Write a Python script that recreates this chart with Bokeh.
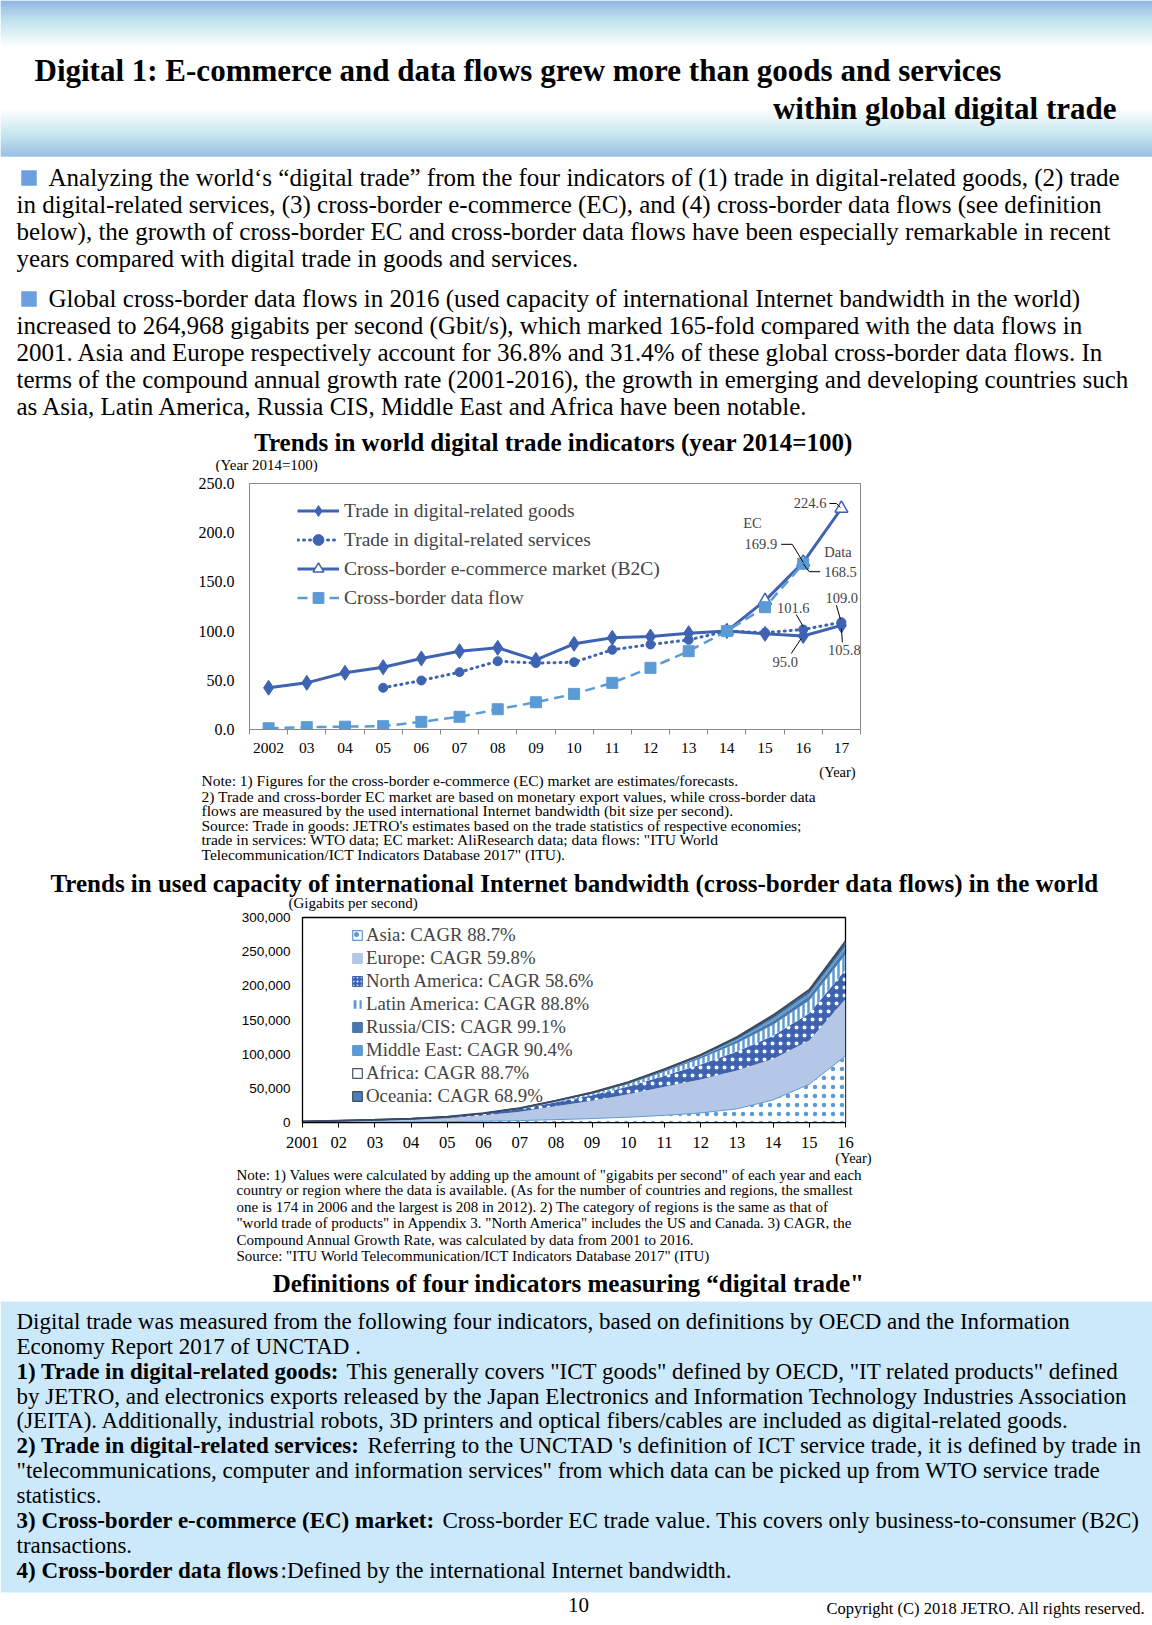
import numpy as np
from bokeh.plotting import figure
from bokeh.layouts import column
from bokeh.models import (Range1d, FixedTicker, Legend, LegendItem, Label,
                          ColumnDataSource, NumeralTickFormatter)
from bokeh.core.properties import value
from bokeh.transform import stack
from bokeh.embed import file_html
from bokeh.resources import INLINE

nan = float("nan")

# ------------------------------------------------------------------ data: chart 1
year_labels_1 = ["2002", "03", "04", "05", "06", "07", "08", "09", "10",
                 "11", "12", "13", "14", "15", "16", "17"]
goods = [42.4, 47.4, 57.6, 63.3, 72.2, 79.6, 83.0, 70.8, 87.1, 93.2, 94.5,
         97.9, 100.0, 97.2, 95.0, 105.8]
services = [nan, nan, nan, 42.4, 49.8, 58.3, 69.4, 67.5, 68.4, 81.0, 86.4,
            91.1, 100.0, 98.4, 101.6, 109.0]
ec_market = [nan, nan, nan, nan, nan, nan, nan, nan, nan, nan, nan, nan,
             100.0, 131.0, 169.9, 224.6]
data_flow = [1.2, 2.4, 2.9, 3.4, 7.8, 12.9, 20.6, 27.7, 36.2, 47.4, 62.7,
             79.6, 100.0, 124.3, 168.5, nan]
series_names_1 = ["Trade in digital-related goods", "Trade in digital-related services",
                  "Cross-border e-commerce market (B2C)", "Cross-border data flow"]
y_ticks_1 = [0, 50, 100, 150, 200, 250]

# ------------------------------------------------------------------ data: chart 2
years_2 = [2001, 2002, 2003, 2004, 2005, 2006, 2007, 2008, 2009, 2010, 2011,
           2012, 2013, 2014, 2015, 2016]
year_labels_2 = ["2001", "02", "03", "04", "05", "06", "07", "08", "09", "10",
                 "11", "12", "13", "14", "15", "16"]
asia = [250, 400, 600, 850, 1250, 1900, 2800, 4200, 5800, 7800, 10500, 14000,
        20000, 33000, 56000, 97500]
europe = [900, 1550, 2250, 3300, 5000, 8300, 13000, 19500, 26000, 33500, 42000,
          49000, 56000, 60000, 64000, 83200]
north_america = [380, 620, 850, 1150, 1600, 2500, 3800, 5800, 8200, 11500, 16000,
                 22000, 28000, 34000, 40000, 43000]
latin_america = [30, 55, 90, 140, 230, 400, 700, 1300, 2200, 3600, 5800, 8500,
                 12000, 16000, 18500, 22000]
russia_cis = [10, 20, 35, 55, 90, 170, 330, 600, 900, 1300, 1900, 2700, 4000,
              5500, 6500, 8000]
middle_east = [15, 25, 40, 60, 80, 140, 240, 400, 600, 900, 1300, 2000, 3500,
               5500, 6000, 7000]
africa = [6, 10, 15, 20, 20, 40, 60, 100, 150, 200, 250, 400, 800, 1700, 2000, 2800]
oceania = [15, 20, 20, 25, 30, 50, 70, 100, 150, 200, 250, 400, 700, 1300, 1200, 1468]
region_keys = ["asia", "europe", "north_america", "latin_america", "russia_cis",
               "middle_east", "africa", "oceania"]
region_labels = ["Asia: CAGR 88.7%", "Europe: CAGR 59.8%", "North America: CAGR 58.6%",
                 "Latin America: CAGR 88.8%", "Russia/CIS: CAGR 99.1%",
                 "Middle East: CAGR 90.4%", "Africa: CAGR 88.7%", "Oceania: CAGR 68.9%"]
y_ticks_2 = [0, 50000, 100000, 150000, 200000, 250000, 300000]

# ------------------------------------------------------------------ texts
title_lines = ["Digital 1: E-commerce and data flows grew more than goods and services",
               "within global digital trade"]
para1 = ["Analyzing  the world\u2018s \u201cdigital trade\u201d from the four indicators of (1) trade in digital-related goods, (2) trade",
         "in digital-related services, (3) cross-border e-commerce (EC), and (4) cross-border data flows (see definition",
         "below), the growth of cross-border EC and cross-border data flows have been especially remarkable in recent",
         "years compared with digital trade in goods and services."]
para2 = ["Global cross-border data flows in 2016 (used capacity of international Internet bandwidth in the world)",
         "increased to 264,968 gigabits per second (Gbit/s), which marked 165-fold compared with the data flows in",
         "2001. Asia and Europe respectively account for 36.8% and 31.4% of these global cross-border data flows. In",
         "terms of the compound annual growth rate (2001-2016), the growth in emerging and developing countries such",
         "as Asia, Latin America, Russia CIS, Middle East and Africa have been notable."]
chart1_title = "Trends in world digital trade indicators (year 2014=100)"
chart1_unit = "(Year  2014=100)"
notes1 = ["Note:  1) Figures for the cross-border e-commerce  (EC)  market  are estimates/forecasts.",
          "2) Trade and cross-border EC market  are based on monetary export values, while cross-border data",
          "flows are measured by the used international Internet bandwidth (bit size per second).",
          "Source: Trade in goods: JETRO's  estimates based on the trade statistics of respective economies;",
          "trade in services: WTO data; EC market:  AliResearch  data; data flows:  \"ITU World",
          "Telecommunication/ICT  Indicators Database 2017\"  (ITU)."]
chart2_title = "Trends in used capacity of international Internet bandwidth (cross-border data flows) in the world"
chart2_unit = "(Gigabits  per second)"
notes2 = ["Note: 1) Values were calculated  by adding up the amount of \"gigabits  per second\"  of each year and each",
          "country or region  where the data is available.  (As for the number of countries and regions,  the smallest",
          "one is 174 in 2006 and the largest  is 208 in 2012). 2) The category  of regions is the same as that of",
          "\"world trade of products\" in Appendix 3. \"North America\" includes the US and Canada. 3) CAGR, the",
          "Compound Annual Growth Rate, was calculated  by data from 2001 to 2016.",
          "Source:  \"ITU World Telecommunication/ICT  Indicators Database 2017\" (ITU)"]
defs_title = "Definitions of four indicators measuring \u201cdigital trade\""
defs = [("", "Digital trade was measured from the following  four indicators, based on definitions by OECD and the Information"),
        ("", "Economy Report 2017 of UNCTAD ."),
        ("1) Trade in digital-related goods:", "This generally covers \"ICT goods\" defined by OECD, \"IT related products\" defined"),
        ("", "by JETRO, and electronics  exports released by the Japan Electronics and Information Technology Industries Association"),
        ("", "(JEITA). Additionally, industrial robots, 3D printers and optical fibers/cables are included as digital-related goods."),
        ("2) Trade in digital-related services:", "Referring to the UNCTAD 's definition of ICT service trade, it is defined by trade in"),
        ("", "\"telecommunications,  computer and information services\"  from which data can be picked up from WTO service trade"),
        ("", "statistics."),
        ("3) Cross-border e-commerce (EC) market:", "Cross-border EC trade value. This covers only business-to-consumer (B2C)"),
        ("", "transactions."),
        ("4) Cross-border data flows", ":Defined by the international Internet bandwidth.")]
defs_regular_x = [16, 16, 346, 16, 16, 367, 16, 16, 442, 16, 280]
page_no = "10"
copyright_text = "Copyright (C) 2018 JETRO. All rights reserved."

# ------------------------------------------------------------------ style
SERIF = "Liberation Serif"
SANS = "Liberation Sans"
W = 1152
DARK = "#3f63b3"
LIGHT = "#5b9bd5"


def text_fig(y0, y1):
    f = figure(width=W, height=int(y1 - y0), x_range=Range1d(0, W),
               y_range=Range1d(y1, y0), output_backend="svg", toolbar_location=None,
               x_axis_type=None, y_axis_type=None, min_border=0, title=None)
    f.frame_align = False
    f.grid.visible = False
    f.outline_line_color = None
    f.background_fill_color = "white"
    return f


def put(f, xs, ys, texts, size, bold=False, align="left", color="black", font=SERIF):
    f.text(x=xs, y=ys, text=texts, text_font=value(font),
           text_font_size=value(f"{size}px"),
           text_font_style="bold" if bold else "normal",
           text_align=align, text_baseline="middle", text_color=color)


def hex2rgb(h):
    return np.array([int(h[i:i + 2], 16) for i in (1, 3, 5)], dtype=float)


# ------------------------------------------------------------------ A: header + paragraphs
fa = text_fig(0, 472)
stops_y = [0, 18, 46, 108, 134, 156]
stops_c = ["#6c9ddb", "#a7d7e5", "#ffffff", "#ffffff", "#b2dfea", "#78a9dd"]
ys = np.arange(0, 156)
rgbs = np.array([hex2rgb(c) for c in stops_c])
cols = []
for y in ys:
    r = np.interp(y, stops_y, rgbs[:, 0]); g = np.interp(y, stops_y, rgbs[:, 1]); b = np.interp(y, stops_y, rgbs[:, 2])
    cols.append("#%02x%02x%02x" % (int(r), int(g), int(b)))
fa.quad(left=0, right=W, top=list(ys), bottom=list(ys + 1.05), fill_color=cols, line_color=None)
put(fa, [34], [70], [title_lines[0]], 31, bold=True)
put(fa, [1116], [108], [title_lines[1]], 31, bold=True, align="right")

fa.rect(x=[28.5, 28.5], y=[177.5, 298.5], width=15.5, height=15.5, fill_color="#6c9fde", line_color=None)
put(fa, [48, 16, 16, 16], [177.2, 204.1, 231.0, 258.0], para1, 25)
put(fa, [48, 16, 16, 16, 16], [298.4, 325.3, 352.2, 379.2, 406.1], para2, 25)
put(fa, [553], [442], [chart1_title], 25, bold=True, align="center")
put(fa, [215], [464], [chart1_unit], 15)

# ------------------------------------------------------------------ B: chart 1
B0, B1 = 472, 762
FL, FR, FT, FB = 249, 860, 483, 729
p1 = figure(width=W, height=B1 - B0, x_range=Range1d(-0.5, 15.5), y_range=Range1d(0, 250),
            output_backend="svg", toolbar_location=None, title=None,
            min_border_left=FL, min_border_right=W - FR,
            min_border_top=FT - B0, min_border_bottom=B1 - FB)
p1.frame_align = False
p1.grid.visible = False
p1.outline_line_color = "#898989"
p1.outline_line_width = 1
idx = list(range(len(year_labels_1)))
p1.xaxis.ticker = FixedTicker(ticks=idx, minor_ticks=[i - 0.5 for i in range(len(idx) + 1)])
p1.xaxis.major_label_overrides = {i: lab for i, lab in enumerate(year_labels_1)}
p1.xaxis.major_tick_line_color = None
p1.xaxis.major_tick_out = 0
p1.xaxis.major_tick_in = 0
p1.xaxis.minor_tick_line_color = "#898989"
p1.xaxis.minor_tick_in = 0
p1.xaxis.minor_tick_out = 5
p1.xaxis.axis_line_color = "#898989"
p1.xaxis.major_label_standoff = 8
p1.yaxis.ticker = FixedTicker(ticks=y_ticks_1)
p1.yaxis.formatter = NumeralTickFormatter(format="0.0")
p1.yaxis.major_tick_line_color = None
p1.yaxis.minor_tick_line_color = None
p1.yaxis.major_tick_out = 0
p1.yaxis.axis_line_color = "#898989"
p1.yaxis.major_label_standoff = 15
p1.xaxis.major_label_text_font_size = "15.5px"
p1.yaxis.major_label_text_font_size = "16px"
for ax in (p1.xaxis[0], p1.yaxis[0]):
    ax.major_label_text_font = SERIF
    ax.major_label_text_color = "black"

src1 = ColumnDataSource(dict(x=idx, goods=goods, services=services, ec=ec_market, data=data_flow))
r_gl = p1.line("x", "goods", source=src1, line_color=DARK, line_width=3)
r_gp = p1.scatter("x", "goods", source=src1, marker="diamond", size=15, fill_color=DARK, line_color=DARK)
r_sl = p1.line("x", "services", source=src1, line_color=DARK, line_width=3, line_dash="1 5", line_cap="round")
r_sp = p1.scatter("x", "services", source=src1, marker="circle", size=9, fill_color=DARK, line_color=DARK)
r_el = p1.line("x", "ec", source=src1, line_color=DARK, line_width=3)
r_ep = p1.scatter("x", "ec", source=src1, marker="triangle", size=13, fill_color="white", line_color=DARK, line_width=1.5)
r_dl = p1.line("x", "data", source=src1, line_color=LIGHT, line_width=2.5, line_dash="10 6")
r_dp = p1.scatter("x", "data", source=src1, marker="square", size=11, fill_color=LIGHT, line_color=LIGHT)

leg1 = Legend(items=[LegendItem(label=series_names_1[0], renderers=[r_gl, r_gp]),
                     LegendItem(label=series_names_1[1], renderers=[r_sl, r_sp]),
                     LegendItem(label=series_names_1[2], renderers=[r_el, r_ep]),
                     LegendItem(label=series_names_1[3], renderers=[r_dl, r_dp])],
              location=(48, 118), glyph_width=42, glyph_height=27, label_height=27,
              spacing=2, padding=0, margin=0, label_standoff=5,
              label_text_font=SERIF, label_text_font_size="19.5px",
              border_line_color=None, background_fill_alpha=0)
p1.add_layout(leg1)

XPX = (FR - FL) / 16.0
YPX = (FB - FT) / 250.0


def at(i, v, dx, dy):
    return i + dx / XPX, v - dy / YPX


callouts = [(ec_market, 15, "right", (-15, -5), [(-12, -5), (-5, -5), (-1, -1)]),
            (ec_market, 14, "right", (-26, -18), [(-22, -18), (-11, -18), (0, 0)]),
            (data_flow, 14, "left", (21, 8), [(0, 0), (6, 8), (17, 8)]),
            (services, 14, "center", (-10, -22), [(-7, -15), (0, -3)]),
            (services, 15, "left", (-16, -24), [(-5, -17), (-1, -3)]),
            (goods, 14, "center", (-18, 25.5), [(-12, 17.5), (-2, 2.5)]),
            (goods, 15, "center", (3, 25), [(1, 17), (0, 3)])]
lxs, lys = [], []
for vals, i, al, (tx, ty), pts in callouts:
    x, y = at(i, vals[i], tx, ty)
    p1.add_layout(Label(x=x, y=y, text=f"{vals[i]:.1f}", text_align=al, text_baseline="middle",
                        text_font=SERIF, text_font_size="14.5px"))
    xy = [at(i, vals[i], a, b) for a, b in pts]
    lxs.append([q[0] for q in xy]); lys.append([q[1] for q in xy])
p1.multi_line(xs=lxs, ys=lys, line_color="black", line_width=1)
x, y = at(14, ec_market[14], -60, -39)
p1.add_layout(Label(x=x, y=y, text="EC", text_baseline="middle", text_font=SERIF, text_font_size="14.5px"))
x, y = at(14, data_flow[14], 21, -12)
p1.add_layout(Label(x=x, y=y, text="Data", text_baseline="middle", text_font=SERIF, text_font_size="14.5px"))

# ------------------------------------------------------------------ C: notes 1 + title 2 + unit
C0, C1 = 762, 911
fc = text_fig(C0, C1)
put(fc, [837], [771], ["(Year)"], 14.5, align="center")
put(fc, [201] * 6, [780, 795.5, 810, 824.6, 839, 853.7], notes1, 15.5)
put(fc, [574], [883], [chart2_title], 25, bold=True, align="center")
put(fc, [288], [902.5], [chart2_unit], 15)

# ------------------------------------------------------------------ D: chart 2
D0, D1 = C1, 1150
GL, GR, GT, GB = 302, 845, 917, 1123
p2 = figure(width=W, height=D1 - D0, x_range=Range1d(2001, 2016), y_range=Range1d(0, 300000),
            output_backend="svg", toolbar_location=None, title=None,
            min_border_left=GL, min_border_right=W - GR,
            min_border_top=GT - D0, min_border_bottom=D1 - GB)
p2.frame_align = False
p2.grid.visible = False
p2.outline_line_color = "black"
p2.outline_line_width = 1.3
p2.xaxis.ticker = FixedTicker(ticks=years_2)
p2.xaxis.major_label_overrides = {y: lab for y, lab in zip(years_2, year_labels_2)}
p2.xaxis.major_tick_line_color = "black"
p2.xaxis.major_tick_in = 0
p2.xaxis.major_tick_out = 5
p2.xaxis.minor_tick_line_color = None
p2.xaxis.axis_line_color = "black"
p2.xaxis.major_label_standoff = 9
p2.xaxis.major_label_text_font = SERIF
p2.xaxis.major_label_text_font_size = "16.5px"
p2.yaxis.ticker = FixedTicker(ticks=y_ticks_2)
p2.yaxis.formatter = NumeralTickFormatter(format="0,0")
p2.yaxis.major_tick_line_color = None
p2.yaxis.minor_tick_line_color = None
p2.yaxis.major_tick_out = 0
p2.yaxis.axis_line_color = "black"
p2.yaxis.major_label_standoff = 12
p2.yaxis.major_label_text_font = SANS
p2.yaxis.major_label_text_font_size = "13.5px"
for ax in (p2.xaxis[0], p2.yaxis[0]):
    ax.major_label_text_color = "black"

src2 = ColumnDataSource(dict(year=years_2, asia=asia, europe=europe, north_america=north_america,
                             latin_america=latin_america, russia_cis=russia_cis,
                             middle_east=middle_east, africa=africa, oceania=oceania))
styles = [dict(fill_color="white", hatch_pattern="dot", hatch_color=LIGHT, hatch_scale=9, hatch_weight=2),
          dict(fill_color="#b4c7e7"),
          dict(fill_color="#3d62b0", hatch_pattern="dot", hatch_color="white", hatch_scale=8, hatch_weight=2),
          dict(fill_color="white", hatch_pattern="vertical_line", hatch_color=LIGHT, hatch_scale=5, hatch_weight=2.5),
          dict(fill_color="#4a78ac"),
          dict(fill_color=LIGHT),
          dict(fill_color="white"),
          dict(fill_color="#4d6f9e")]
swatch_line = [LIGHT, "#b4c7e7", "#3d62b0", "white", "#4a78ac", LIGHT, "#44546a", "#3b4a63"]
swatch_style = [dict(fill_color="white", hatch_pattern="dot", hatch_color=LIGHT, hatch_scale=10, hatch_weight=2),
                dict(fill_color="#b4c7e7"),
                dict(fill_color="#3d62b0", hatch_pattern="dot", hatch_color="white", hatch_scale=4, hatch_weight=1.5),
                dict(fill_color="white", hatch_pattern="vertical_line", hatch_color=LIGHT, hatch_scale=6, hatch_weight=3),
                dict(fill_color="#4a78ac"),
                dict(fill_color=LIGHT),
                dict(fill_color="white"),
                dict(fill_color="#4f7fbb")]
swatches = []
for k, key in enumerate(region_keys):
    y1 = stack(*region_keys[:k]) if k > 0 else 0
    y2 = stack(*region_keys[:k + 1])
    p2.varea(x="year", y1=y1, y2=y2, source=src2, **styles[k])
    # legend-only swatch (not drawn on the plot)
    swatches.append(p2.quad(left="year", right="year", bottom=y1, top=y2, source=src2,
                            line_color=swatch_line[k], line_width=1.2, visible=False,
                            **swatch_style[k]))
p2.line(x="year", y=stack(*region_keys[:1]), source=src2, line_color=LIGHT, line_width=1)
p2.line(x="year", y=stack(*region_keys[:6]), source=src2, line_color="#44546a", line_width=1.2)
p2.line(x="year", y=stack(*region_keys[:7]), source=src2, line_color="#44546a", line_width=1.2)
p2.line(x="year", y=stack(*region_keys[:8]), source=src2, line_color="#3b4a63", line_width=2)

leg2 = Legend(items=[LegendItem(label=lab, renderers=[r]) for lab, r in zip(region_labels, swatches)],
              location=(49, 15), glyph_width=12, glyph_height=12, label_height=20,
              spacing=1, padding=0, margin=0, label_standoff=3,
              label_text_font=SERIF, label_text_font_size="18.8px",
              border_line_color=None, background_fill_alpha=0,
              inactive_fill_alpha=0, click_policy="none")
p2.add_layout(leg2)

# ------------------------------------------------------------------ E: notes 2 + definitions + footer
fe = text_fig(D1, 1620)
put(fe, [853], [1157], ["(Year)"], 14.5, align="center")
put(fe, [236] * 6, [1174, 1189.5, 1206, 1222.5, 1239, 1255.5], notes2, 15)
put(fe, [568], [1283], [defs_title], 25, bold=True, align="center")
fe.quad(left=0, right=W, top=1301, bottom=1592, fill_color="#cce9fb", line_color=None)
dy0, dstep = 1321, 24.86
for k, (b, r) in enumerate(defs):
    y = dy0 + k * dstep
    if b:
        put(fe, [16], [y], [b], 23, bold=True)
    put(fe, [defs_regular_x[k]], [y], [r], 23)
put(fe, [578], [1604], [page_no], 21, align="center")
put(fe, [1145], [1608], [copyright_text], 16.5, align="right")

layout = column(fa, p1, fc, p2, fe, spacing=0)
open("out.html", "w").write(file_html(layout, INLINE))
